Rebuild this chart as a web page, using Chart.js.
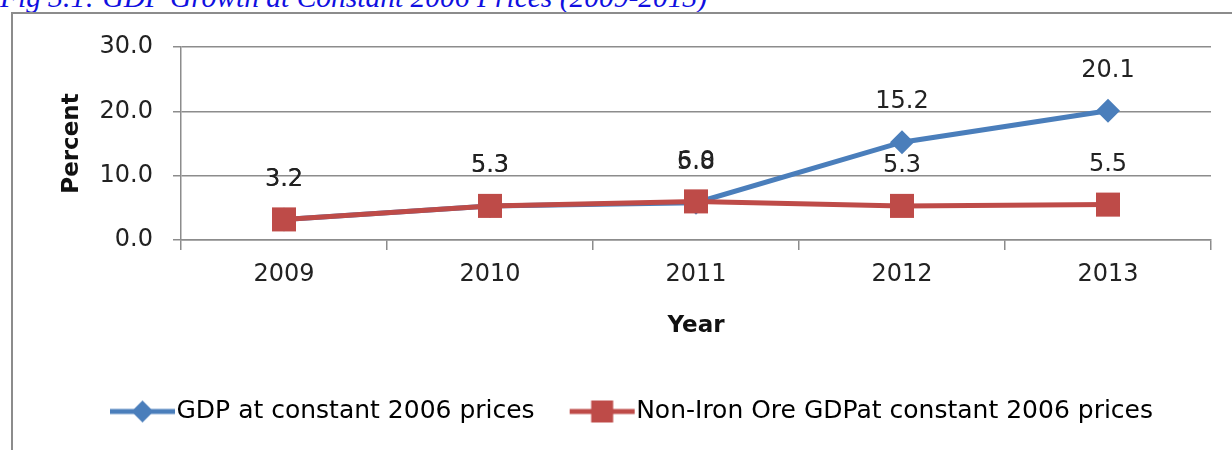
<!DOCTYPE html>
<html>
<head>
<meta charset="utf-8">
<script src="https://cdn.jsdelivr.net/npm/chart.js@4.4.1/dist/chart.umd.min.js"></script>
<style>
  html, body { margin: 0; padding: 0; background: #fff; }
  #wrap { position: relative; width: 1232px; height: 450px; overflow: hidden; }
  #fig { position: absolute; left: 0px; top: -19px; font: italic 29.5px "Liberation Serif", serif; color: #1010e0; white-space: nowrap; }
  #frame { position: absolute; left: 11px; top: 12px; width: 1240px; height: 460px; border-left: 2px solid #8c8c8c; border-top: 2px solid #8c8c8c; }
  #c { position: absolute; left: 0; top: 0; }
</style>
</head>
<body>
<div id="wrap">
  <div id="fig">Fig 3.1: GDP Growth at Constant 2006 Prices (2009-2013)</div>
  <div id="frame"></div>
  <canvas id="c" width="1232" height="450"></canvas>
</div>
<script>
const years = ["2009", "2010", "2011", "2012", "2013"];
const gdp = [3.2, 5.3, 5.8, 15.2, 20.1];
const nonIronOre = [3.2, 5.3, 6.0, 5.3, 5.5];
const yTicks = [0, 10, 20, 30];

const blue = "#4a7ebb";
const red = "#be4b48";
const font = "'DejaVu Sans', sans-serif";

// legend swatch: line with marker, like the excel legend
function swatch(color, shape) {
  const cv = document.createElement("canvas");
  cv.width = 80;
  cv.height = 28;
  const g = cv.getContext("2d");
  g.strokeStyle = color;
  g.lineWidth = 5;
  g.beginPath();
  g.moveTo(13, 14);
  g.lineTo(78, 14);
  g.stroke();
  g.fillStyle = color;
  g.beginPath();
  if (shape == "diamond") {
    g.moveTo(45.5, 3); g.lineTo(56.5, 14); g.lineTo(45.5, 25); g.lineTo(34.5, 14);
  } else {
    g.rect(34.5, 3, 22, 22);
  }
  g.fill();
  return cv;
}

const valueLabels = {
  id: "valueLabels",
  afterDatasetsDraw(chart) {
    const ctx = chart.ctx;
    ctx.save();
    ctx.font = "24px " + font;
    ctx.fillStyle = "#222";
    ctx.textAlign = "center";
    ctx.textBaseline = "middle";
    chart.data.datasets.forEach((ds, i) => {
      chart.getDatasetMeta(i).data.forEach((pt, j) => {
        ctx.fillText(ds.data[j].toFixed(1), pt.x, pt.y - 40);
      });
    });
    ctx.restore();
  }
};

new Chart(document.getElementById("c"), {
  type: "line",
  data: {
    labels: years,
    datasets: [
      {
        label: "GDP at constant 2006 prices",
        data: gdp,
        borderColor: blue,
        backgroundColor: blue,
        borderWidth: 5,
        pointStyle: "rectRot",
        pointRadius: 12,
        pointBorderWidth: 0,
        order: 1,
        legendImg: swatch(blue, "diamond")
      },
      {
        label: "Non-Iron Ore GDPat constant 2006 prices",
        data: nonIronOre,
        borderColor: red,
        backgroundColor: red,
        borderWidth: 5,
        pointStyle: "rect",
        pointRadius: 17,
        pointBorderWidth: 0,
        order: 0,
        legendImg: swatch(red, "square")
      }
    ]
  },
  options: {
    responsive: false,
    animation: false,
    layout: { padding: { left: 52, right: 21, top: 47, bottom: 16 } },
    plugins: {
      tooltip: { enabled: false },
      legend: {
        position: "bottom",
        labels: {
          font: { family: font, size: 25 },
          color: "#111",
          padding: 35,
          usePointStyle: true,
          pointStyleWidth: 54,
          sort: (a, b) => a.datasetIndex - b.datasetIndex,
          generateLabels(chart) {
            return chart.data.datasets.map((ds, i) => ({
              text: ds.label,
              datasetIndex: i,
              pointStyle: ds.legendImg,
              fillStyle: ds.backgroundColor,
              strokeStyle: ds.borderColor,
              lineWidth: 0,
              hidden: false
            }));
          }
        }
      }
    },
    scales: {
      x: {
        offset: true,
        afterFit: s => { s.height = 124; },
        grid: { offset: true, drawOnChartArea: false, drawTicks: true, tickLength: 10, color: "#8c8c8c", lineWidth: 1.5 },
        border: { color: "#8c8c8c", width: 1.5 },
        ticks: { font: { family: font, size: 24 }, color: "#222", padding: 10 },
        title: { display: true, text: "Year", font: { family: font, size: 23, weight: "bold" }, color: "#111", padding: { top: 0, bottom: 24 } }
      },
      y: {
        min: 0,
        max: 30,
        afterFit: s => { s.width = 129; },
        afterBuildTicks: s => { s.ticks = yTicks.map(v => ({ value: v })); },
        grid: { color: "#8c8c8c", lineWidth: 1.5, tickLength: 8 },
        border: { color: "#8c8c8c", width: 1.5 },
        ticks: { font: { family: font, size: 24 }, color: "#222", padding: 20, callback: v => v.toFixed(1) },
        title: { display: true, text: "Percent", font: { family: font, size: 23, weight: "bold" }, color: "#111", padding: { top: 6, bottom: 0 } }
      }
    }
  },
  plugins: [valueLabels]
});
</script>
</body>
</html>
